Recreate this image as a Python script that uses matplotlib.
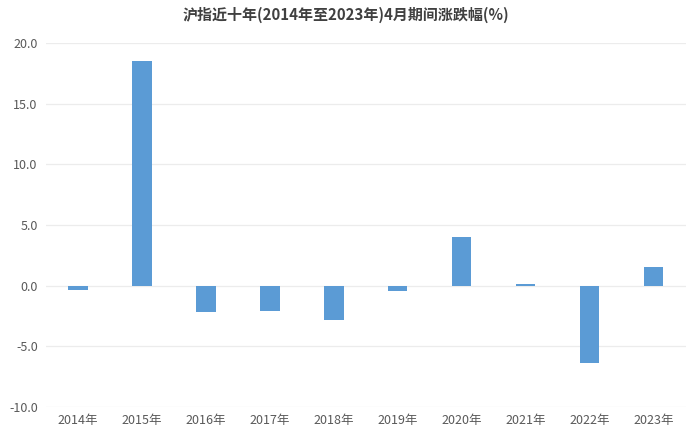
import matplotlib
matplotlib.use("Agg")
import matplotlib.pyplot as plt
import numpy as np

plt.rcParams['font.family'] = ['Noto Sans CJK SC', 'DejaVu Sans']

# data
years = ['2014年', '2015年', '2016年', '2017年', '2018年',
         '2019年', '2020年', '2021年', '2022年', '2023年']
change = [-0.36, 18.5, -2.18, -2.12, -2.81, -0.41, 4.02, 0.14, -6.34, 1.51]
yticks = [-10, -5, 0, 5, 10, 15, 20]

fig = plt.figure(figsize=(6.92, 4.37), dpi=100)
ax = fig.add_axes([0.0665, 0.0686, 0.9245, 0.833])

x = np.arange(len(years))
ax.bar(x, change, width=0.3, color='#5B9BD5', zorder=3)

ax.set_xlim(-0.5, len(years) - 0.5)
ax.set_ylim(-10, 20)
ax.set_yticks(yticks)
ax.set_yticklabels(['%.1f' % v for v in yticks])
ax.set_xticks(x)
ax.set_xticklabels(years)

# light horizontal grid, no frame
ax.grid(axis='y', color='#ECECEC', linewidth=0.9, zorder=0)
for s in ax.spines.values():
    s.set_visible(False)
ax.tick_params(axis='both', length=0, labelsize=9, colors='#595959')
ax.tick_params(axis='y', pad=6)
ax.tick_params(axis='x', pad=5)

fig.suptitle('沪指近十年(2014年至2023年)4月期间涨跌幅(%)', x=0.5, y=0.985,
             fontsize=10.8, fontweight='bold', color='#404040')

fig.savefig('out.png', dpi=100, facecolor='white')
